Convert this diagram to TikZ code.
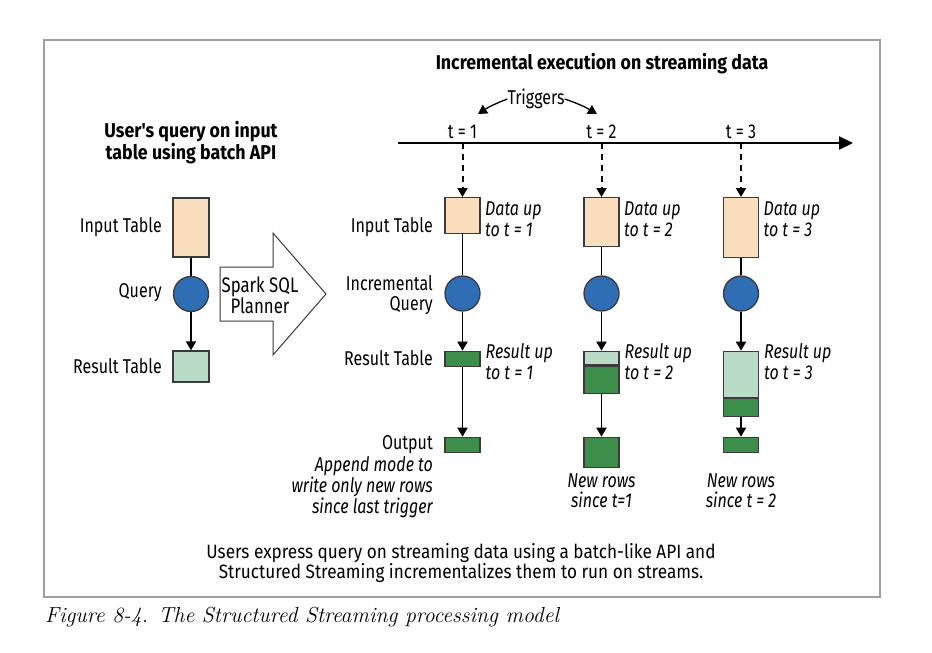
\documentclass[tikz,border=0pt]{standalone}
\usepackage{fontspec}
\newfontfamily\figsans[FakeStretch=0.8]{Fira Sans}
\newfontfamily\figwide[FakeStretch=0.89]{Fira Sans}
\usetikzlibrary{arrows.meta,positioning}

\definecolor{inputfill}{HTML}{F8DEBD}
\definecolor{queryfill}{HTML}{2F6DB5}
\definecolor{newfill}{HTML}{3E8E4B}
\definecolor{oldfill}{HTML}{BADCC7}
\definecolor{edgegray}{HTML}{3A3A3A}

\begin{document}
\begin{tikzpicture}[x=1pt,y=-1pt,
        font=\figsans\fontsize{20}{20}\selectfont,
        >={Triangle[length=9pt,width=10pt]},
        tbl/.style={draw=edgegray,line width=1.3pt,minimum width=35pt,inner sep=0pt},
        inbox/.style={tbl,fill=inputfill},
        oldbox/.style={tbl,fill=oldfill},
        newbox/.style={tbl,fill=newfill},
        query/.style={circle,draw=edgegray,line width=1.3pt,fill=queryfill,minimum size=35pt,inner sep=0pt},
        flow/.style={->,line width=1.8pt},
        lbl/.style={anchor=east,align=right,inner sep=0pt},
        note/.style={anchor=west,align=left,inner sep=0pt,font=\figsans\itshape\fontsize{20}{21}\selectfont},
        heading/.style={align=center,inner sep=0pt,font=\figwide\bfseries\fontsize{20}{19}\selectfont}]
        \path[use as bounding box] (0,0) rectangle (932,653);
        \draw[gray!75,line width=1.2pt] (44,40) rectangle (880,597);

        % batch side
        \node[heading] (head0) at (191,142.5) {User's query on input\\table using batch API};
        \node[inbox,minimum width=36pt,minimum height=59pt] (in0) at (191,227.5) {};
        \node[query] (q0) at (191,294) {};
        \node[oldbox,minimum width=36pt,minimum height=31pt] (res0) at (191,366.5) {};
        \draw[line width=1.8pt] (in0) -- (q0);
        \draw[flow] (q0) -- (res0);
        \node[lbl] (lin0) at (162,227) {Input Table};
        \node[lbl] (lq0) at (162,293) {Query};
        \node[lbl] (lres0) at (162,366) {Result Table};

        % planner arrow
        \draw[edgegray,line width=1pt,fill=white] (220,267) -- (273,267) -- (273,233) -- (326,294)
            -- (273,355) -- (273,321) -- (220,321) -- cycle;
        \node[align=center,inner sep=0pt,font=\figsans\fontsize{21}{20.5}\selectfont] (planner) at (260,295) {Spark SQL\\Planner};

        % streaming side
        \node[heading] (head1) at (602,64) {Incremental execution on streaming data};
        \coordinate (tl0) at (398,143);
        \coordinate (tl1) at (853,143);
        \draw[->,line width=2.2pt,>={Triangle[length=14pt,width=13pt]}] (tl0) -- (tl1);

        \node[inner sep=0pt] (trig) at (536,99) {Triggers};
        \coordinate (trL) at (478,114);
        \coordinate (trR) at (597,114);
        \draw[->,line width=1.3pt] (trig.west) to[bend right=6] (trL);
        \draw[->,line width=1.3pt] (trig.east) to[bend left=6] (trR);

        \foreach \i/\x/\h in {1/462.5/36,2/601.5/48.5,3/741/60} {
            \coordinate (tk\i) at (\x,143);
            \node[inner sep=0pt] (t\i) at (\x,132) {t = \i};
            \node[inbox,anchor=north,minimum height=\h pt] (in\i) at (\x,197) {};
            \draw[->,line width=2pt,dash pattern=on 6pt off 5pt] (tk\i) -- (in\i);
            \node[query] (q\i) at (\x,293.5) {};
            \draw[line width=1.8pt] (in\i) -- (q\i);
            \node[note] (d\i) at (\x+22.5,219.5) {Data up\\to t = \i};
            \node[note] (r\i) at (\x+23,362) {Result up\\to t = \i};
        }

        % result tables
        \node[newbox,anchor=north,minimum height=15.3pt] (res1) at (462.5,350.7) {};
        \node[oldbox,anchor=north,minimum height=13.6pt] (res2) at (601.5,350.7) {};
        \node[newbox,anchor=north,minimum height=27pt] (new2) at (res2.south) {};
        \node[oldbox,anchor=north,minimum height=46pt] (res3) at (741,350.7) {};
        \node[newbox,anchor=north,minimum height=17.6pt] (new3) at (res3.south) {};

        % outputs
        \node[newbox,anchor=north,minimum height=15.3pt] (out1) at (462.5,436.7) {};
        \node[newbox,anchor=north,minimum height=30pt] (out2) at (601.5,436.7) {};
        \node[newbox,anchor=north,minimum height=15.3pt] (out3) at (741,436.7) {};

        \foreach \i in {1,2,3} \draw[flow] (q\i) -- (res\i);
        \draw[flow] (res1) -- (out1);
        \draw[flow] (new2) -- (out2);
        \draw[flow] (new3) -- (out3);

        \node[lbl] (lin1) at (433,227) {Input Table};
        \node[lbl] (lq1) at (433,295) {Incremental\\Query};
        \node[lbl] (lres1) at (433,358.5) {Result Table};
        \node[lbl] (lout1) at (433,445) {Output};
        \node[lbl,font=\figsans\itshape\fontsize{20}{20.7}\selectfont] (mode) at (433,487)
            {Append mode to\\write only new rows\\since last trigger};
        \node[align=center,inner sep=0pt,font=\figsans\itshape\fontsize{20}{20}\selectfont] (rows2) at (601.5,491) {New rows\\since t=1};
        \node[align=center,inner sep=0pt,font=\figsans\itshape\fontsize{20}{20}\selectfont] (rows3) at (741,491) {New rows\\since t = 2};

        \node[align=center,inner sep=0pt,font=\figwide\fontsize{19.3}{20.5}\selectfont] (summary) at (461,563)
            {Users express query on streaming data using a batch-like API and\\Structured Streaming incrementalizes them to run on streams.};

        \node[anchor=base west,inner sep=0pt,font=\itshape\fontsize{21.8}{22}\selectfont] (cap) at (45,622)
            {Figure 8-4. The Structured Streaming processing model};
\end{tikzpicture}
\end{document}
